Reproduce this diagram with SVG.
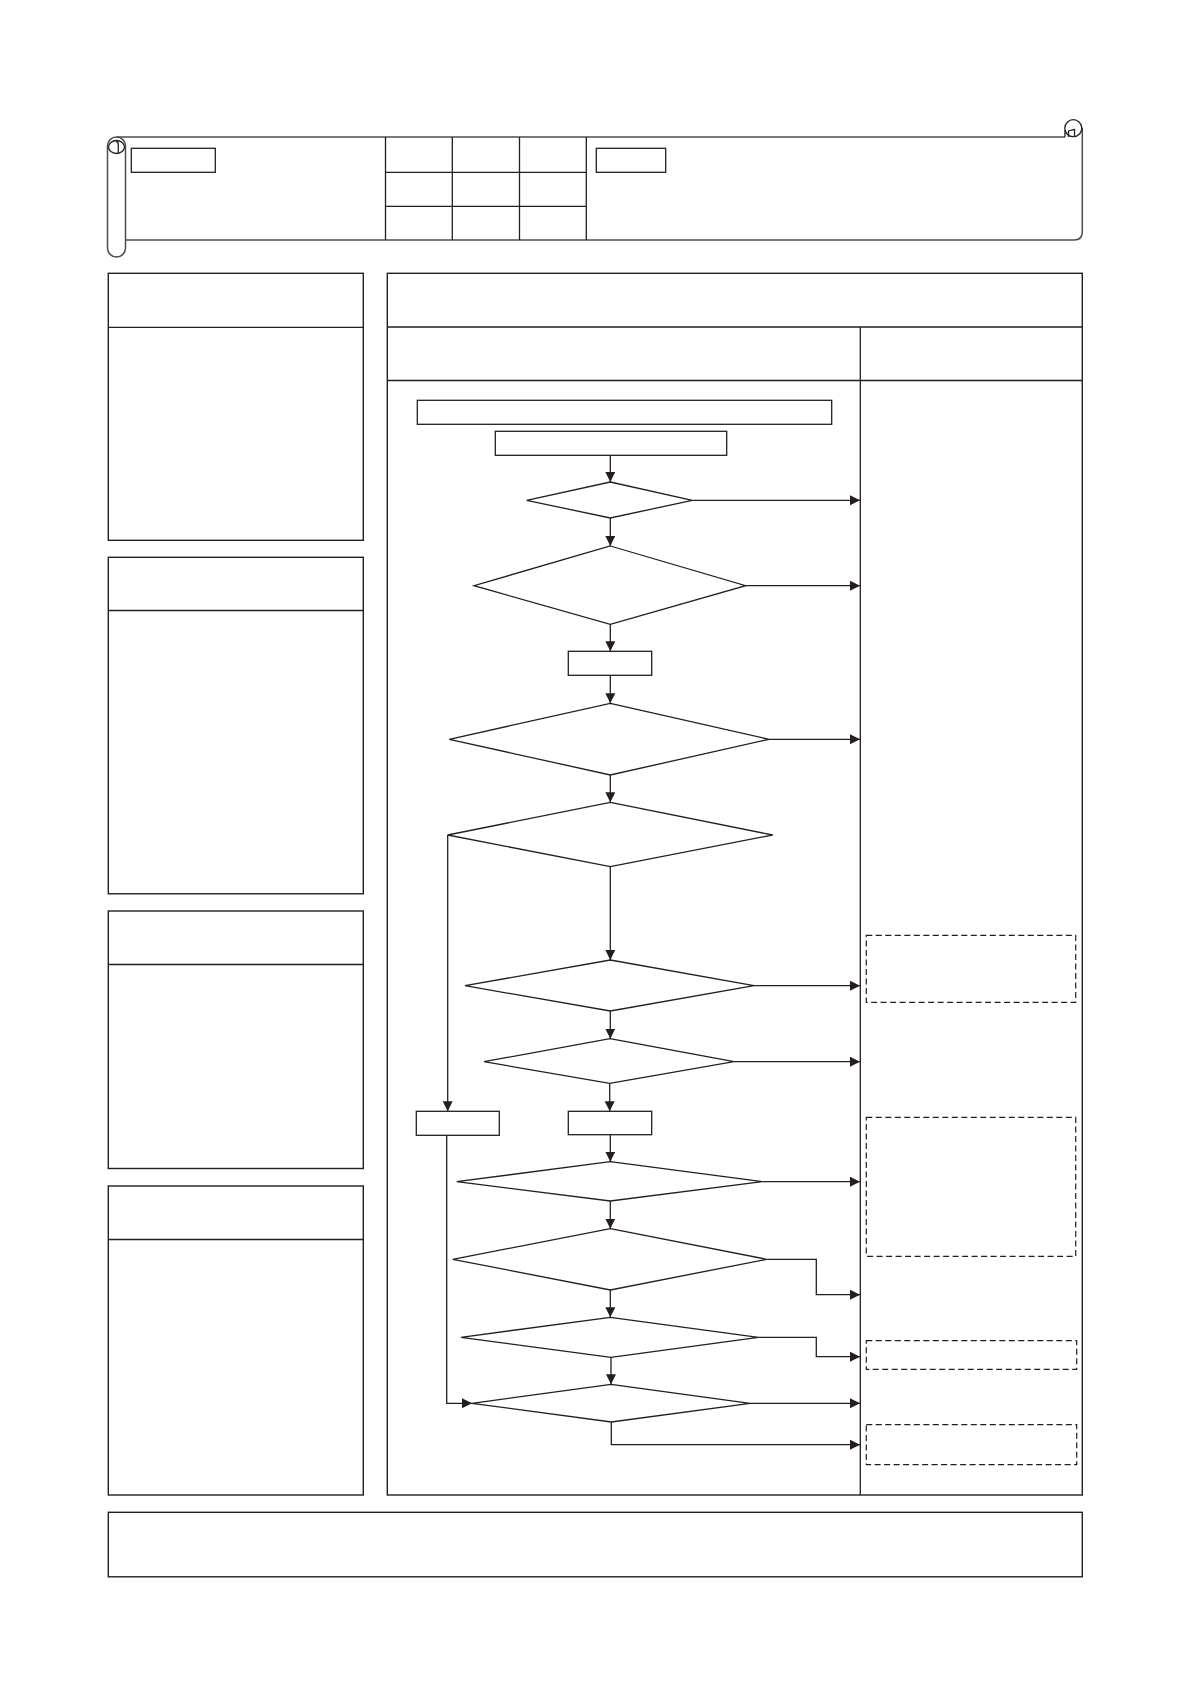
<svg xmlns="http://www.w3.org/2000/svg" width="1191" height="1684" viewBox="0 0 1191 1684">
<style>
.ln{fill:none;stroke:#231f20;stroke-width:1.3}
.bx{fill:#fff;stroke:#231f20;stroke-width:1.4}
.sc{fill:none;stroke:#4d4d4d;stroke-width:1.5}
.ds{fill:none;stroke:#231f20;stroke-width:1.2;stroke-dasharray:6 3.5}
.cn{fill:none;stroke:#231f20;stroke-width:1.3;marker-end:url(#ah)}
</style>
<defs>
<marker id="ah" markerUnits="userSpaceOnUse" markerWidth="11" markerHeight="11" refX="10" refY="5" orient="auto">
<path d="M0,0 L10,5 L0,10 z" fill="#231f20"/>
</marker>
</defs>
<rect width="1191" height="1684" fill="#fff"/>

<g id="header">
<path class="sc" d="M117,137 L1065,137"/>
<path class="sc" d="M125.5,240 L1074,240 Q1082.3,240 1082.3,232 L1082.3,128"/>
<rect class="sc" x="107.5" y="137" width="18" height="120" rx="9" ry="9"/>
<ellipse class="ln" cx="116.5" cy="147" rx="8" ry="6.5"/>
<path class="ln" d="M118.3,153.5 L118.3,145 Q118.3,141.5 116,141.5"/>
<circle class="ln" cx="1073.3" cy="128.2" r="8.5"/>
<path class="ln" d="M1065,130 L1065,137 M1068.5,137 L1068.5,131 Q1072,130 1074.5,129.5 L1074.5,137"/>
<rect class="ln" x="131.3" y="148.3" width="84" height="24"/>
<rect class="ln" x="596.3" y="148.3" width="69.4" height="24"/>
<path class="ln" d="M385.5,137 V240 M452.3,137 V240 M519.5,137 V240 M586.3,137 V240 M385.5,172.3 H586.3 M385.5,206.3 H586.3"/>
</g>

<g id="side-panels">
<rect class="bx" x="108.3" y="273.3" width="255" height="267"/>
<line class="ln" x1="108.3" y1="327.3" x2="363.3" y2="327.3"/>
<rect class="bx" x="108.3" y="557.3" width="255" height="336.5"/>
<line class="ln" x1="108.3" y1="610.5" x2="363.3" y2="610.5"/>
<rect class="bx" x="108.3" y="911" width="255" height="257.5"/>
<line class="ln" x1="108.3" y1="964.5" x2="363.3" y2="964.5"/>
<rect class="bx" x="108.3" y="1186" width="255" height="309"/>
<line class="ln" x1="108.3" y1="1239.5" x2="363.3" y2="1239.5"/>
</g>

<g id="main-panel">
<rect class="bx" x="387.3" y="273.3" width="695" height="1221.7"/>
<line class="ln" x1="387.3" y1="327" x2="1082.3" y2="327"/>
<line class="ln" x1="387.3" y1="380.5" x2="1082.3" y2="380.5"/>
<line class="ln" x1="860.3" y1="327" x2="860.3" y2="1495"/>
</g>

<g id="footer">
<rect class="bx" x="108.3" y="1512.3" width="974" height="64.5"/>
</g>

<g id="nodes">
<g id="start-wide"><rect class="ln" x="417.3" y="400.3" width="414.4" height="24"/></g>
<g id="start"><rect class="ln" x="495.3" y="431.3" width="231.4" height="24"/></g>
<g id="d1"><polygon class="ln" points="610.3,482 692.3,500.3 610.3,518 526.7,500.3"/></g>
<g id="d2"><polygon class="ln" points="610.3,546 745.7,585.7 610.3,624.3 474,585.7"/></g>
<g id="p1"><rect class="ln" x="568.3" y="651.3" width="83.4" height="24"/></g>
<g id="d3"><polygon class="ln" points="610.3,703.3 769,739.3 610.3,775 449.3,739.3"/></g>
<g id="d4"><polygon class="ln" points="610.3,802.3 772.7,835 610.3,866.7 447.7,835"/></g>
<g id="d5"><polygon class="ln" points="610.3,960 754,985.7 610.3,1011 465,985.7"/></g>
<g id="d6"><polygon class="ln" points="610,1038.7 734,1061.7 609.7,1083.3 484,1061.7"/></g>
<g id="p2"><rect class="ln" x="416.3" y="1111.3" width="83" height="24"/></g>
<g id="p3"><rect class="ln" x="568.3" y="1111.3" width="83.4" height="23.4"/></g>
<g id="d7"><polygon class="ln" points="610.3,1161.7 762.3,1181.7 610.3,1201 456.7,1181.7"/></g>
<g id="d8"><polygon class="ln" points="610.3,1228.7 766.7,1259.3 610.3,1290 452.7,1259.3"/></g>
<g id="d9"><polygon class="ln" points="610.3,1317.3 758.3,1337.3 611,1357.3 461,1337.3"/></g>
<g id="d10"><polygon class="ln" points="611,1384.3 750,1403.3 611.3,1422 472,1403.3"/></g>
<g id="note1"><rect class="ds" x="866.3" y="935.3" width="209.4" height="67"/></g>
<g id="note2"><rect class="ds" x="866.3" y="1117.3" width="209.4" height="139"/></g>
<g id="note3"><rect class="ds" x="866.3" y="1340.7" width="210.4" height="28.6"/></g>
<g id="note4"><rect class="ds" x="866.3" y="1424.7" width="210.4" height="40"/></g>
</g>

<g id="connectors">
<path class="cn" d="M610.3,455.3 V482"/>
<path class="cn" d="M692.3,500.3 H860"/>
<path class="cn" d="M610.3,518 V546"/>
<path class="cn" d="M745.7,585.7 H860"/>
<path class="cn" d="M610.3,624.3 V651.3"/>
<path class="cn" d="M610.3,675.3 V703.3"/>
<path class="cn" d="M769,739.3 H860"/>
<path class="cn" d="M610.3,775 V802.3"/>
<path class="cn" d="M610.3,866.7 V960"/>
<path class="cn" d="M447.7,835 V1111.3"/>
<path class="cn" d="M754,985.7 H860"/>
<path class="cn" d="M610.3,1011 V1038.7"/>
<path class="cn" d="M734,1061.7 H860"/>
<path class="cn" d="M609.7,1083.3 V1111.3"/>
<path class="cn" d="M610.3,1134.7 V1161.7"/>
<path class="cn" d="M762.3,1181.7 H860"/>
<path class="cn" d="M610.3,1201 V1228.7"/>
<path class="cn" d="M766.7,1259.3 H816.3 V1294.7 H860"/>
<path class="cn" d="M610.3,1290 V1317.3"/>
<path class="cn" d="M758.3,1337.3 H816.3 V1356.7 H860"/>
<path class="cn" d="M611,1357.3 V1384.3"/>
<path class="cn" d="M446.7,1135.3 V1403.3 H472"/>
<path class="cn" d="M750,1403.3 H860"/>
<path class="cn" d="M611.3,1422 V1444.7 H860"/>
</g>
</svg>
